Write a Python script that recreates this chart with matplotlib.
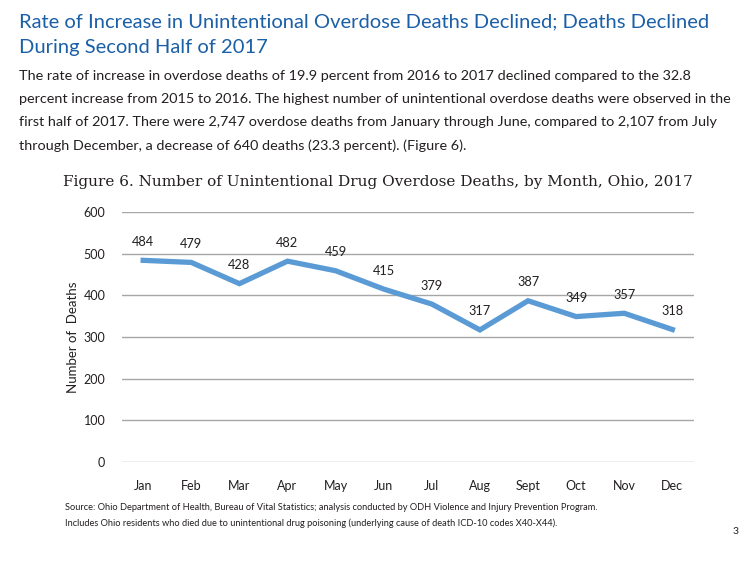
import matplotlib
matplotlib.use('Agg')
import matplotlib.pyplot as plt

months = ['Jan', 'Feb', 'Mar', 'Apr', 'May', 'Jun', 'Jul', 'Aug', 'Sept', 'Oct', 'Nov', 'Dec']
deaths = [484, 479, 428, 482, 459, 415, 379, 317, 387, 349, 357, 318]
y_ticks = [0, 100, 200, 300, 400, 500, 600]

title_lines = ['Rate of Increase in Unintentional Overdose Deaths Declined; Deaths Declined',
               'During Second Half of 2017']
body_lines = [
    'The rate of increase in overdose deaths of 19.9 percent from 2016 to 2017 declined compared to the 32.8',
    'percent increase from 2015 to 2016. The highest number of unintentional overdose deaths were observed in the',
    'first half of 2017. There were 2,747 overdose deaths from January through June, compared to 2,107 from July',
    'through December, a decrease of 640 deaths (23.3 percent). (Figure 6).',
]
fig_title = 'Figure 6. Number of Unintentional Drug Overdose Deaths, by Month, Ohio, 2017'
source_lines = [
    'Source: Ohio Department of Health, Bureau of Vital Statistics; analysis conducted by ODH Violence and Injury Prevention Program.',
    'Includes Ohio residents who died due to unintentional drug poisoning (underlying cause of death ICD-10 codes X40-X44).',
]

W, H = 752, 561
fig = plt.figure(figsize=(W / 100, H / 100), dpi=100)

def px(x, y):
    return x / W, 1 - y / H

# header text
for i, line in enumerate(title_lines):
    fig.text(*px(19, 22 + i * 25), line, fontsize=14.5, color='#1b5fa6',
             family='Lato', va='center', ha='left')
for i, line in enumerate(body_lines):
    fig.text(*px(19, 76 + i * 23.2), line, fontsize=10.4, color='#231f20',
             family='Lato', va='center', ha='left')

fig.text(*px(378, 182), fig_title, fontsize=11.0, color='#231f20',
         family='DejaVu Serif', va='center', ha='center')

# chart
ax = fig.add_axes([122 / W, 1 - 462 / H, (694 - 122) / W, (462 - 212) / H])
x = list(range(len(months)))
ax.plot(x, deaths, color='#5b9bd5', linewidth=3.8, solid_joinstyle='miter')
for xi, v in zip(x, deaths):
    ax.annotate(str(v), (xi, v), xytext=(0, 9), textcoords='offset points',
                ha='center', va='bottom', fontsize=9.2, family='Lato', color='#231f20')

ax.set_xlim(-0.44, 11.45)
ax.set_ylim(0, 600)
ax.set_yticks(y_ticks)
ax.set_xticks(x)
ax.set_xticklabels(months)
ax.yaxis.grid(True, color='#a6a6a6', linewidth=1)
ax.set_axisbelow(True)
for s in ax.spines.values():
    s.set_visible(False)
ax.tick_params(length=0, labelsize=9, colors='#231f20')
ax.tick_params(axis='x', pad=13)
ax.tick_params(axis='y', pad=12)
for lab in ax.get_xticklabels() + ax.get_yticklabels():
    lab.set_family('Lato')
ax.set_ylabel('Number of  Deaths', fontsize=9.5, family='Lato', color='#231f20', labelpad=3)

for i, line in enumerate(source_lines):
    fig.text(*px(65, 507 + i * 16), line, fontsize=6.7, color='#231f20',
             family='Lato', va='center', ha='left')
fig.text(*px(733, 531), '3', fontsize=7.5, color='#231f20', family='Lato', va='center', ha='left')

fig.savefig('out.png', dpi=100)
